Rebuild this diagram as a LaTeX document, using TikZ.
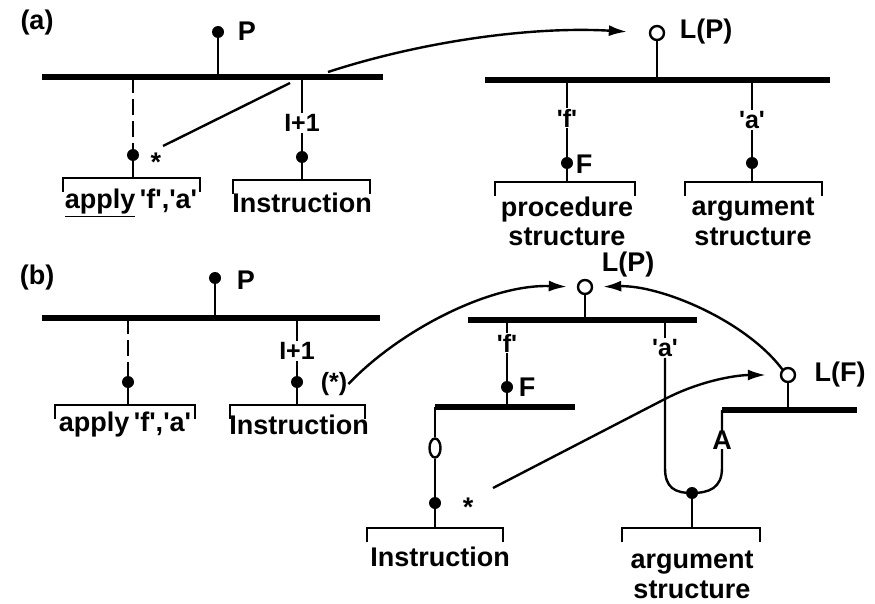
\documentclass[tikz,border=0pt]{standalone}
\usepackage{fontspec}
\setmainfont{Liberation Sans}
\usetikzlibrary{arrows.meta,shapes.geometric}
\newcommand{\myq}[1]{\textquotesingle#1\textquotesingle}
\begin{document}
\begin{tikzpicture}[x=1pt,y=-1pt,
  bar/.style={line width=6pt},
  stem/.style={line width=2.4pt},
  dashstem/.style={line width=2.4pt,dash pattern=on 16pt off 6pt},
  brk/.style={line width=2.4pt},
  conn/.style={line width=2.4pt},
  arr/.style={line width=2.4pt,-{Latex[length=18pt,width=11pt]}},
  dot/.style={circle,fill,inner sep=0pt,minimum size=12pt},
  odot/.style={circle,draw,line width=2.4pt,fill=white,inner sep=0pt,minimum size=14pt},
  oell/.style={ellipse,draw,line width=2.4pt,fill=white,inner sep=0pt,minimum width=11pt,minimum height=19pt},
  txt/.style={font=\bfseries\fontsize{27}{30}\selectfont,inner sep=1pt},
  lbl/.style={font=\bfseries\fontsize{25}{28}\selectfont,inner sep=1pt},
]
\useasboundingbox (0,0) rectangle (875,604);
% ---------------- (a) ----------------
\node[txt] (alab) at (37,23) {(a)};
\node[dot] (aP) at (218,32) {};
\node[txt] (aPl) at (247,31) {P};
\coordinate (aBarL) at (42,77);
\coordinate (aBarR) at (383,77);
\draw[bar] (aBarL) -- (aBarR);
\draw[stem] (aP) -- (aP |- aBarL);
% left stem
\node[dot] (aD1) at (133,155) {};
\draw[dashstem] (aD1 |- aBarL) -- (aD1);
\node[txt,anchor=base] (aStar) at (156,172) {*};
\coordinate (aB1L) at (63,178);
\coordinate (aB1R) at (200,178);
\draw[brk] ([yshift=-14pt]aB1L) -- (aB1L) -- (aB1R) -- ([yshift=-14pt]aB1R);
\draw[stem] (aD1) -- (aD1 |- aB1L);
\node[txt] (aT1) at (131,203) {\underline{apply}\,\myq{f},\myq{a}};
% right stem
\node[lbl] (aI) at (302,123) {I+1};
\node[dot] (aD2) at (302,157) {};
\draw[stem] (aD2 |- aBarL) -- (aI.north);
\draw[stem] (aI.south) -- (aD2);
\coordinate (aB2L) at (233,180);
\coordinate (aB2R) at (370,180);
\draw[brk] ([yshift=-14pt]aB2L) -- (aB2L) -- (aB2R) -- ([yshift=-14pt]aB2R);
\draw[stem] (aD2) -- (aD2 |- aB2L);
\node[txt] (aT2) at (302,203) {Instruction};
% connector
\coordinate (aS) at (163,146);
\coordinate (aX1) at (290,83);
\coordinate (aX2) at (328,72);
\draw[conn] (aS) -- (aX1);
% right structure
\node[odot] (aLP) at (657,33) {};
\node[txt] (aLPl) at (706,32) {L(P)};
\draw[arr,shorten >=22pt] (aX2) .. controls (420,42) and (530,26) .. (aLP.west);
\coordinate (aBarL2) at (485,80);
\coordinate (aBarR2) at (830,80);
\draw[bar] (aBarL2) -- (aBarR2);
\draw[stem] (aLP) -- (aLP |- aBarL2);
\node[lbl] (aF) at (567,118) {\myq{f}};
\node[dot] (aD3) at (567,163) {};
\node[txt] (aFl) at (584,164) {F};
\draw[stem] (aD3 |- aBarL2) -- (aF.north);
\draw[stem] (aF.south) -- (aD3);
\coordinate (aB3L) at (495,182);
\coordinate (aB3R) at (635,182);
\draw[brk] ([yshift=-14pt]aB3L) -- (aB3L) -- (aB3R) -- ([yshift=-14pt]aB3R);
\draw[stem] (aD3) -- (aD3 |- aB3L);
\node[txt] (aT3) at (567,210) {procedure};
\node[txt] (aT3b) at (567,237) {structure};
\node[lbl] (aA) at (752,120) {\myq{a}};
\node[dot] (aD4) at (752,163) {};
\draw[stem] (aD4 |- aBarL2) -- (aA.north);
\draw[stem] (aA.south) -- (aD4);
\coordinate (aB4L) at (685,182);
\coordinate (aB4R) at (822,182);
\draw[brk] ([yshift=-14pt]aB4L) -- (aB4L) -- (aB4R) -- ([yshift=-14pt]aB4R);
\draw[stem] (aD4) -- (aD4 |- aB4L);
\node[txt] (aT4) at (753,210) {argument};
\node[txt] (aT4b) at (753,237) {structure};
% ---------------- (b) ----------------
\node[txt] (blab) at (37,278) {(b)};
\node[dot] (bP) at (215,278) {};
\node[txt] (bPl) at (246,280) {P};
\coordinate (bBarL) at (42,318);
\coordinate (bBarR) at (380,318);
\draw[bar] (bBarL) -- (bBarR);
\draw[stem] (bP) -- (bP |- bBarL);
\node[dot] (bD1) at (128,382) {};
\draw[dashstem] (bD1 |- bBarL) -- (bD1);
\coordinate (bB1L) at (55,405);
\coordinate (bB1R) at (195,405);
\draw[brk] ([yshift=-14pt]bB1L) -- (bB1L) -- (bB1R) -- ([yshift=-14pt]bB1R);
\draw[stem] (bD1) -- (bD1 |- bB1L);
\node[txt] (bT1) at (125,425) {apply\,\myq{f},\myq{a}};
\node[lbl] (bI) at (297,351) {I+1};
\node[dot] (bD2) at (297,382) {};
\draw[stem] (bD2 |- bBarL) -- (bI.north);
\draw[stem] (bI.south) -- (bD2);
\node[lbl] (bStarP) at (334,384) {(*)};
\coordinate (bB2L) at (230,405);
\coordinate (bB2R) at (365,405);
\draw[brk] ([yshift=-14pt]bB2L) -- (bB2L) -- (bB2R) -- ([yshift=-14pt]bB2R);
\draw[stem] (bD2) -- (bD2 |- bB2L);
\node[txt] (bT2) at (299,425) {Instruction};
% middle structure
\node[odot] (bLP) at (585,287) {};
\node[txt] (bLPl) at (628,265) {L(P)};
\coordinate (bBarL2) at (468,320);
\coordinate (bBarR2) at (697,320);
\draw[bar] (bBarL2) -- (bBarR2);
\draw[stem] (bLP) -- (bLP |- bBarL2);
\draw[arr,shorten >=10pt] (bStarP.east) .. controls (400,330) and (490,284) .. (bLP.west);
\node[lbl] (bF) at (507,343) {\myq{f}};
\node[dot] (bD3) at (507,387) {};
\node[txt] (bFl) at (527,387) {F};
\draw[stem] (bD3 |- bBarL2) -- (bF.north);
\draw[stem] (bF.south) -- (bD3);
\coordinate (bLbarL) at (435,407);
\coordinate (bLbarR) at (575,407);
\draw[bar] (bLbarL) -- (bLbarR);
\draw[stem] (bD3) -- (bD3 |- bLbarL);
\node[oell] (bE) at (435,448) {};
\draw[stem] (bLbarL) -- (bE.north);
\node[dot] (bD4) at (435,503) {};
\draw[stem] (bE.south) -- (bD4);
\node[txt,anchor=base] (bStar) at (468,516) {*};
\coordinate (bB3L) at (367,528);
\coordinate (bB3R) at (503,528);
\draw[brk] ([yshift=-14pt]bB3L) -- (bB3L) -- (bB3R) -- ([yshift=-14pt]bB3R);
\draw[stem] (bD4) -- (bD4 |- bB3L);
\node[txt] (bT3) at (440,557) {Instruction};
% right structure
\node[odot] (bLF) at (788,375) {};
\node[txt] (bLFl) at (840,375) {L(F)};
\coordinate (bRbarL) at (722,410);
\coordinate (bRbarR) at (857,410);
\draw[bar] (bRbarL) -- (bRbarR);
\draw[stem] (bLF) -- (bLF |- bRbarL);
\draw[arr,shorten >=10pt] (bLF.north west) .. controls (745,320) and (660,285) .. (bLP.east);
\coordinate (bS) at (493,488);
\coordinate (bX) at (663,400);
\draw[arr,shorten >=14pt] (bS) -- (bX) .. controls (703,379) and (740,375) .. (bLF.west);
\node[lbl] (bA) at (665,348) {\myq{a}};
\node[dot] (bD5) at (692,493) {};
\draw[stem] (bA.north) -- (bA.north |- bBarL2);
\draw[stem] (bA.south) -- (665,468) .. controls (665,488) and (675,493) .. (bD5.center)
  .. controls (709,493) and (722,488) .. (722,468) -- (bRbarL);
\node[txt,fill=white,inner sep=0pt] (bAr) at (722,440) {A};
\coordinate (bB4L) at (622,528);
\coordinate (bB4R) at (760,528);
\draw[brk] ([yshift=-14pt]bB4L) -- (bB4L) -- (bB4R) -- ([yshift=-14pt]bB4R);
\draw[stem] (bD5) -- (bD5 |- bB4L);
\node[txt] (bT4) at (692,563) {argument};
\node[txt] (bT4b) at (692,590) {structure};
\end{tikzpicture}
\end{document}
